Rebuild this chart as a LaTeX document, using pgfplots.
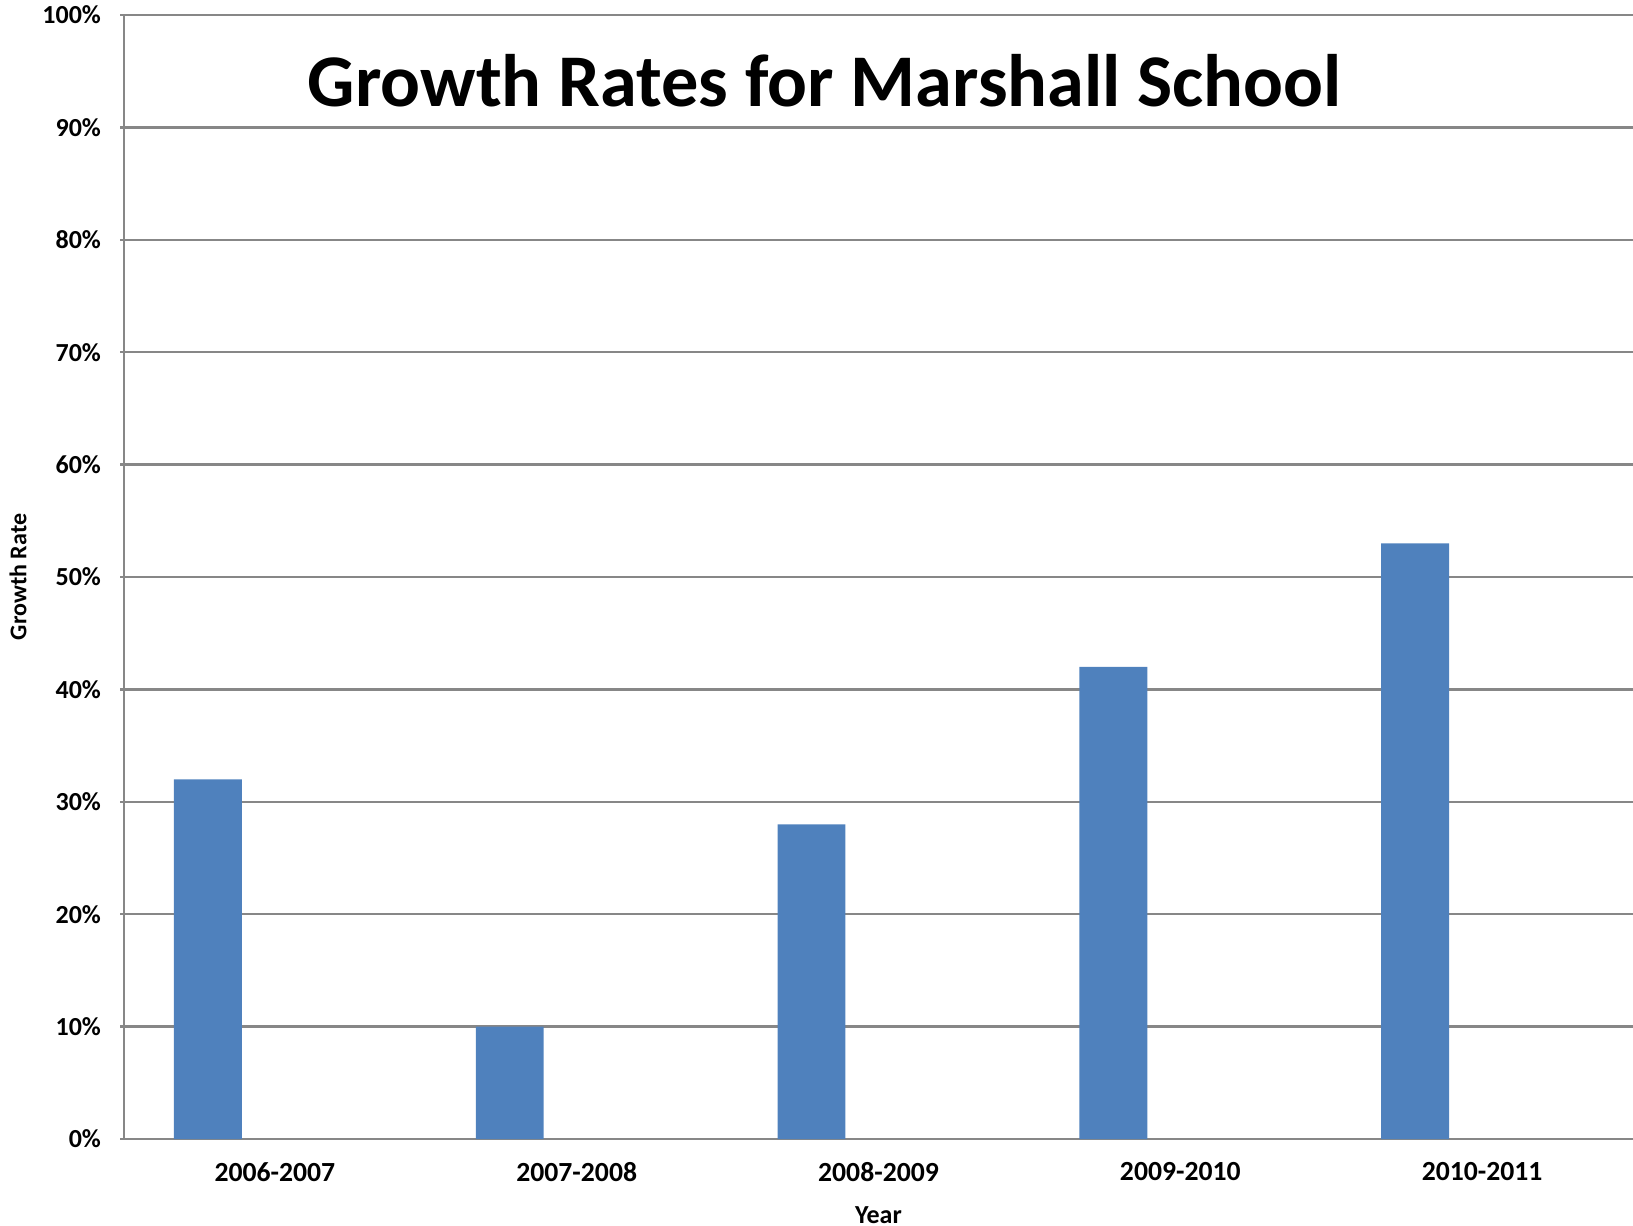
\documentclass[border=0pt]{standalone}
\usepackage{pgfplots}
\pgfplotsset{compat=1.18}
\usepackage{fontspec}
\setmainfont{Carlito}
\definecolor{barblue}{HTML}{4F81BD}
\definecolor{gridgray}{HTML}{878787}
\begin{document}
\begin{tikzpicture}
\useasboundingbox (-37.2pt,-25.8pt) rectangle (452.7pt,341.7pt);
\begin{axis}[
  at={(0,0)}, anchor=south west,
  scale only axis,
  width=452.7pt, height=337.2pt,
  xmin=-0.5, xmax=4.5,
  ymin=0, ymax=100,
  ytick={0,10,...,100},
  xtick={0,1,2,3,4},
  xticklabels={2006-2007,2007-2008,2008-2009,2009-2010,2010-2011},
  x tick style={draw=none},
  y tick style={draw=gridgray, line width=0.7pt},
  tick align=outside,
  major tick length=2.4pt,
  ymajorgrids,
  grid style={draw=gridgray, line width=0.7pt},
  axis x line=bottom, axis y line=left,
  axis line style={draw=gridgray, line width=0.7pt, -},
  /pgf/number format/assume math mode=true,
  yticklabel={\pgfmathprintnumber{\tick}\%},
  yticklabel style={font=\fontsize{7.8}{9}\selectfont\bfseries, xshift=-2.2pt},
  xticklabel style={font=\fontsize{8.3}{10}\selectfont\bfseries, yshift=-1pt},
  xlabel={Year},
  ylabel={Growth Rate},
  xlabel style={font=\fontsize{7.8}{9}\selectfont\bfseries, at={(axis description cs:0.5,-0.0676)}, anchor=center},
  ylabel style={font=\fontsize{7.2}{9}\selectfont\bfseries, at={(axis description cs:-0.0702,0.5)}, anchor=center},
  ybar, bar width=0.225, bar shift=-0.222,
  clip=false,
]
\addplot[fill=barblue, draw=none] coordinates {(0,32) (1,10) (2,28) (3,42) (4,53)};
\node[anchor=base, font=\fontsize{22.3}{26}\selectfont\bfseries] at (rel axis cs:0.4645,0.919) {Growth Rates for Marshall School};
\end{axis}
\end{tikzpicture}
\end{document}
